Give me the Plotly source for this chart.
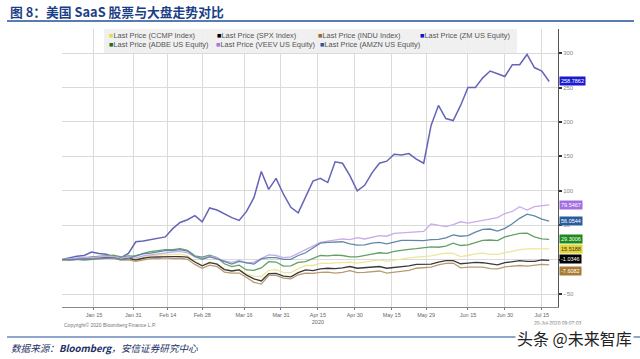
import pandas as pd
import plotly.graph_objects as go

# ---- data (percent change since 2 Jan 2020, sampled every 3 days) ----
dates = pd.date_range("2020-01-02", periods=67, freq="3D")

ccmp = [0, 0.0, 1.0, 2.0, 3.5, 4.5, 4.5, 5.0, 2.5, 3.5, 1.0, 4.0, 6.0, 6.5, 7.5, 7.5, 8.0, 6.0,
        -2.5, -8.5, -3.5, -6.0, -14.0, -16.0, -14.0, -21.0, -24.0, -24.5, -15.5, -14.5, -18.5,
        -19.0, -13.0, -8.5, -8.5, -5.5, -5.5, -5.0, -4.0, -3.5, -5.0, -3.5, -2.0, -0.5, -2.5,
        -0.5, 1.5, 2.5, 3.5, 4.0, 5.5, 7.5, 9.5, 9.0, 4.5, 6.0, 8.5, 9.5, 7.5, 7.5, 10.0, 12.0,
        14.5, 15.5, 16.0, 15.5, 15.52]
spx = [0, -0.3, 0.5, 1.2, 2.5, 3.5, 3.3, 3.5, 1.5, 2.0, -0.5, 2.0, 3.5, 3.8, 4.5, 4.3, 4.5, 3.5,
       -3.5, -9.0, -4.5, -6.5, -14.5, -16.5, -15.0, -22.5, -28.0, -31.0, -20.5, -20.0, -24.0,
       -25.0, -19.0, -15.0, -16.0, -13.5, -12.5, -13.0, -12.0, -10.0, -12.5, -12.0, -11.0,
       -10.0, -12.5, -11.5, -10.0, -9.0, -7.0, -7.0, -6.5, -3.5, -1.5, -1.5, -6.0, -5.0, -4.0,
       -4.5, -6.5, -7.5, -4.5, -3.5, -1.5, -2.5, -2.5, -0.5, -1.03]
indu = [0, -0.5, 0.3, 0.5, 1.5, 2.5, 2.0, 1.5, -0.5, -0.5, -2.5, 0.0, 1.5, 1.5, 2.5, 1.5, 2.0, 0.5,
        -7.0, -12.5, -8.0, -10.0, -18.0, -19.5, -19.5, -26.0, -33.0, -35.5, -23.0, -23.0, -27.0,
        -28.0, -22.0, -19.5, -20.0, -18.5, -18.0, -19.5, -18.5, -16.0, -19.0, -18.5, -17.5,
        -16.5, -19.5, -18.0, -16.0, -15.5, -12.5, -11.5, -11.0, -7.5, -5.5, -5.0, -12.0, -11.0,
        -10.5, -11.0, -13.0, -13.5, -10.5, -10.0, -8.5, -9.5, -8.5, -7.0, -7.6]
zm = [0, 3, 5, 6, 11, 9, 8, 4, 3, 9, 26, 27, 29, 31, 33, 45, 54, 58, 64, 55, 75, 72, 66, 61, 57,
      70, 90, 128, 102, 118, 95, 76, 68, 90, 114, 118, 112, 142, 140, 122, 100, 108, 126, 140,
      143, 153, 152, 154, 146, 140, 195, 224, 205, 202, 224, 250, 250, 264, 274, 270, 266, 283,
      283, 298, 279, 274, 258.79]
adbe = [0, 0.5, 2.0, 2.5, 4.0, 5.0, 6.0, 6.5, 4.0, 5.5, 5.0, 9.0, 11.5, 13.0, 14.5, 14.5, 16.0,
        13.5, 5.5, 3.5, 6.5, 3.0, -6.0, -10.0, -8.0, -15.0, -15.5, -12.0, -3.0, -3.5, -9.5, -9.0,
        -4.0, -3.0, 2.0, 6.0, 5.5, 6.5, 6.0, 4.0, 4.0, 5.5, 8.0, 10.0, 9.0, 12.0, 14.0, 15.0,
        16.0, 17.5, 18.5, 18.0, 19.5, 24.0, 20.5, 21.5, 25.0, 28.0, 28.5, 27.5, 33.0, 35.5, 38.0,
        38.5, 33.0, 30.0, 29.30]
veev = [0, 1.0, 2.0, 3.5, 3.0, 4.0, 5.0, 4.5, 2.0, 3.5, 2.5, 5.5, 7.0, 9.0, 10.0, 11.0, 12.0,
        10.0, 4.0, 1.5, 5.0, 3.0, -2.0, -4.0, -1.0, -5.0, -3.5, 2.0, 7.0, 6.0, 3.0, 4.0, 9.5,
        14.0, 20.0, 25.0, 27.0, 29.0, 30.0, 29.0, 32.0, 30.0, 33.0, 35.0, 34.0, 38.0, 39.0, 39.5,
        40.0, 41.0, 52.0, 50.0, 48.0, 51.0, 55.0, 53.0, 55.0, 58.0, 59.0, 61.0, 67.0, 70.0, 77.0,
        72.0, 77.0, 78.0, 79.55]
amzn = [0, 0.5, 0.5, -0.5, 0.5, 1.0, 2.5, 3.0, 0.0, 1.5, 6.0, 8.5, 9.5, 11.0, 13.0, 13.0, 14.5,
        12.5, 4.5, 0.5, 4.0, 1.0, -3.0, -6.5, -2.5, -5.0, -6.5, 1.0, 3.0, 3.0, 0.5, 0.5, 6.0,
        10.0, 17.0, 24.0, 25.0, 25.0, 26.0, 23.0, 21.0, 21.5, 24.0, 25.0, 23.0, 25.5, 28.0, 28.0,
        28.0, 27.5, 29.0, 29.5, 31.5, 36.0, 34.0, 35.0, 40.0, 44.0, 44.5, 41.5, 45.5, 52.0, 60.0,
        66.0, 63.5, 59.0, 56.05]

names = ["Last Price (CCMP Index)", "Last Price (SPX Index)", "Last Price (INDU Index)",
         "Last Price (ZM US Equity)", "Last Price (ADBE US Equity)",
         "Last Price (VEEV US Equity)", "Last Price (AMZN US Equity)"]
series = [ccmp, spx, indu, zm, adbe, veev, amzn]
line_colors = ["#ece79a", "#3a3a3a", "#b89a70", "#6464b8", "#62a065", "#caaaea", "#5f88a8"]
key_colors = ["#e6dc4a", "#000000", "#9c6a2a", "#1515c8", "#1e6e1e", "#a878e0", "#2c5c98"]
end_labels = ["15.5188", "-1.0346", "-7.6082", "258.7862", "29.3006", "79.5467", "56.0544"]
label_bg = ["#e2d43a", "#000000", "#a87a34", "#1a1ad0", "#1c8a1c", "#a36ee2", "#2a5c9c"]
label_fg = ["#333333", "#ffffff", "#ffffff", "#ffffff", "#ffffff", "#ffffff", "#ffffff"]
label_shift = [0, 1, -6, 0, 0, 0, 0]

tick_dates = ["2020-01-15", "2020-01-31", "2020-02-14", "2020-02-28", "2020-03-16",
              "2020-03-31", "2020-04-15", "2020-04-30", "2020-05-15", "2020-05-29",
              "2020-06-15", "2020-06-30", "2020-07-15"]
tick_text = ["Jan 15", "Jan 31", "Feb 14", "Feb 28", "Mar 16", "Mar 31", "Apr 15<br>2020",
             "Apr 30", "May 15", "May 29", "Jun 15", "Jun 30", "Jul 15"]
y_ticks = [-50, 0, 50, 100, 150, 200, 250, 300]

# legend layout (pixel positions in page)
legend_pos = [(107, 36), (215, 36), (316, 36), (418, 36), (107, 44), (214, 44), (318, 44)]

W, H = 640, 359
L, R, T, B = 62, 558, 29, 307


def px(xp):
    return (xp - L) / (R - L)


def py(yp):
    return (B - yp) / (B - T)


fig = go.Figure()
for name, vals, col in zip(names, series, line_colors):
    w = 1.5 if "ZM" in name else 1.3
    fig.add_trace(go.Scatter(x=dates, y=vals, mode="lines", name=name,
                             line=dict(color=col, width=w), showlegend=False))

annotations = []
shapes = []

# end labels on right axis
for vals, txt, bg, fg, sh in zip(series, end_labels, label_bg, label_fg, label_shift):
    annotations.append(dict(xref="paper", yref="y", x=1, y=vals[-1], xanchor="left",
                            yanchor="middle", xshift=1, yshift=sh, text=txt, showarrow=False,
                            bgcolor=bg, borderpad=1,
                            font=dict(size=5.5, color=fg, family="Liberation Sans")))

# legend box
shapes.append(dict(type="rect", xref="paper", yref="paper", x0=px(104), x1=px(517),
                   y0=py(53), y1=py(29), fillcolor="rgba(238,238,238,0.9)", line=dict(width=0),
                   layer="above"))
for (lx, ly), name, kc in zip(legend_pos, names, key_colors):
    annotations.append(dict(xref="paper", yref="paper", x=px(lx), y=py(ly), xanchor="left",
                            yanchor="middle", showarrow=False,
                            text=f"<span style='color:{kc}'>■</span>{name}",
                            font=dict(size=7.4, color="#555555", family="Liberation Sans")))

# title and decorations
annotations.append(dict(xref="paper", yref="paper", x=px(8), y=py(12), xanchor="left",
                        yanchor="middle", showarrow=False,
                        text="<b>图 8：美国 SaaS 股票与大盘走势对比</b>",
                        font=dict(size=12.8, color="#1b3f86", family="Noto Sans CJK SC")))
shapes.append(dict(type="line", xref="paper", yref="paper", x0=px(7), x1=px(634), y0=py(21),
                   y1=py(21), line=dict(color="#1f4f9c", width=1.5)))
shapes.append(dict(type="line", xref="paper", yref="paper", x0=px(7), x1=px(640), y0=py(337),
                   y1=py(337), line=dict(color="#1f4f9c", width=1.2)))
annotations.append(dict(xref="paper", yref="paper", x=px(62), y=py(325), xanchor="left",
                        yanchor="middle", showarrow=False,
                        text="Copyright© 2020 Bloomberg Finance L.P.",
                        font=dict(size=5, color="#777777", family="Liberation Sans")))
annotations.append(dict(xref="paper", yref="paper", x=px(583), y=py(323), xanchor="right",
                        yanchor="middle", showarrow=False, text="20-Jul-2020 09:07:03",
                        font=dict(size=5, color="#777777", family="Liberation Sans")))
annotations.append(dict(xref="paper", yref="paper", x=px(9), y=py(348), xanchor="left",
                        yanchor="middle", showarrow=False,
                        text="<i>数据来源：<b>Bloomberg</b>，安信证券研究中心</i>",
                        font=dict(size=9.6, color="#1c2f66", family="Noto Sans CJK SC")))
annotations.append(dict(xref="paper", yref="paper", x=px(634), y=py(338), xanchor="right",
                        yanchor="middle", showarrow=False, text="头条 @未来智库",
                        bgcolor="#ffffff", borderpad=1,
                        font=dict(size=16, color="#222222", family="Noto Sans CJK SC")))

fig.update_layout(
    width=W, height=H,
    margin=dict(l=L, r=W - R, t=T, b=H - B, autoexpand=False),
    paper_bgcolor="#ffffff", plot_bgcolor="#ffffff",
    showlegend=False,
    annotations=annotations, shapes=shapes,
    xaxis=dict(type="date", range=["2020-01-02", "2020-07-21 14:00"],
               tickvals=tick_dates, ticktext=tick_text, showgrid=True,
               gridcolor="#dadada", gridwidth=1, showline=True, linecolor="#8a8a8a",
               ticks="outside", ticklen=2, tickcolor="#777777",
               tickfont=dict(size=5.5, color="#666666", family="Liberation Sans"),
               zeroline=False),
    yaxis=dict(range=[-68.8, 335], side="right", tickvals=y_ticks, showgrid=True,
               gridcolor="#dadada", gridwidth=1, showline=True, linecolor="#555555",
               ticks="outside", ticklen=3, tickwidth=2, tickcolor="#333333",
               tickfont=dict(size=6, color="#888888", family="Liberation Sans"),
               zeroline=False),
)

fig.write_html("out.html", config={"displayModeBar": False},
               post_script="document.body.style.margin='0';document.body.style.overflow='hidden';")
